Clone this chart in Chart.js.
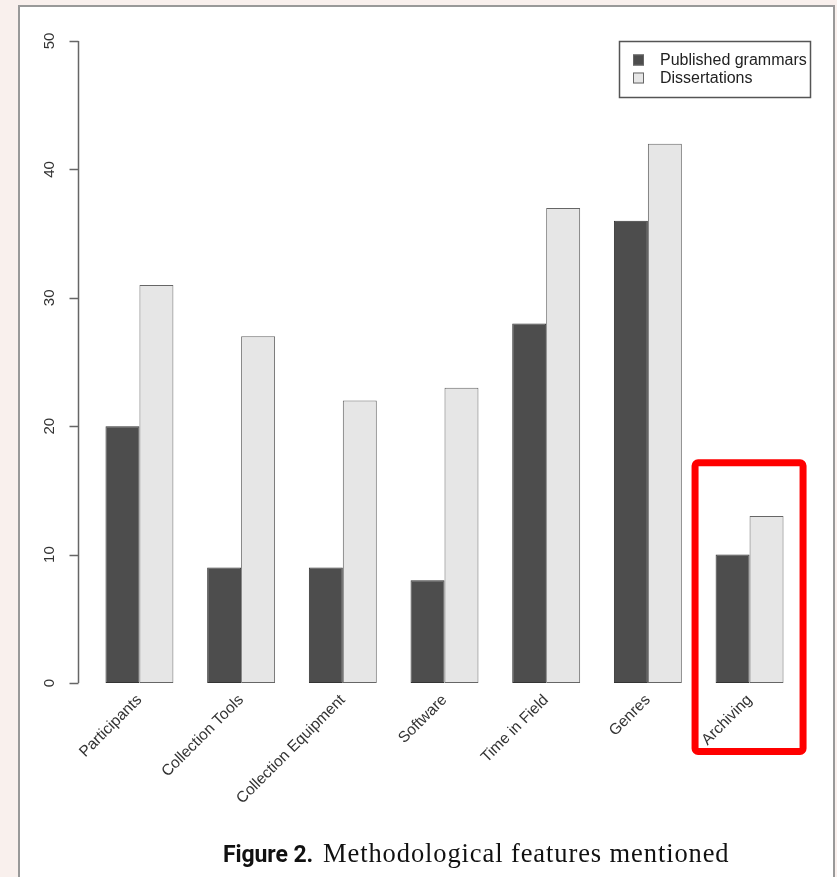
<!DOCTYPE html>
<html>
<head>
<meta charset="utf-8">
<script src="https://cdn.jsdelivr.net/npm/chart.js@4/dist/chart.umd.min.js"></script>
<style>
  html, body { margin: 0; padding: 0; background: #f9f0ed; }
  body { width: 837px; height: 877px; position: relative; overflow: hidden; }
  #panel { position: absolute; left: 18px; top: 5px; width: 813px; height: 900px; background: #fff; border: 2px solid #999; }
  #chart { position: absolute; left: 0; top: 0; }
  #caption { position: absolute; left: 223px; top: 840px; line-height: 26px; white-space: nowrap; color: #111; }
  #caption b { font-family: Roboto, "Liberation Sans", sans-serif; font-weight: 700; font-size: 23px; letter-spacing: -0.1px; }
  #caption span { font-family: "Liberation Serif", serif; font-size: 26.5px; letter-spacing: 0.9px; margin-left: 10px; }
</style>
</head>
<body>
<div id="panel"></div>
<canvas id="chart" width="837" height="877"></canvas>
<div id="caption"><b>Figure 2.</b><span>Methodological features mentioned</span></div>
<script>
// --- Data ---
const categories = ["Participants", "Collection Tools", "Collection Equipment", "Software", "Time in Field", "Genres", "Archiving"];
const publishedGrammars = [20, 9, 9, 8, 28, 36, 10];
const dissertations = [31, 27, 22, 23, 37, 42, 13];
const yTicks = [0, 10, 20, 30, 40, 50];
const seriesNames = ["Published grammars", "Dissertations"];
const highlightIndex = 6; // Archiving gets the red box

const canvas = document.getElementById("chart");

// R-style y axis, drawn a bit left of the plot area
const rAxis = {
  id: "rAxis",
  afterDraw(chart) {
    const ctx = chart.ctx;
    const y = chart.scales.y;
    const x0 = 78.5;
    ctx.save();
    ctx.strokeStyle = "#666";
    ctx.lineWidth = 1.5;
    ctx.beginPath();
    ctx.moveTo(x0, y.getPixelForValue(yTicks[0]));
    ctx.lineTo(x0, y.getPixelForValue(yTicks[yTicks.length - 1]));
    yTicks.forEach(t => {
      const py = Math.round(y.getPixelForValue(t)) + 0.5;
      ctx.moveTo(x0, py);
      ctx.lineTo(x0 - 9, py);
    });
    ctx.stroke();
    ctx.fillStyle = "#333";
    ctx.font = "15px 'Liberation Sans', Arial, sans-serif";
    ctx.textAlign = "center";
    ctx.textBaseline = "middle";
    yTicks.forEach(t => {
      ctx.save();
      ctx.translate(50, y.getPixelForValue(t));
      ctx.rotate(-Math.PI / 2);
      ctx.fillText(String(t), 0, 0);
      ctx.restore();
    });
    ctx.restore();
  }
};

// boxed legend, top right
const boxLegend = {
  id: "boxLegend",
  afterDraw(chart) {
    const ctx = chart.ctx;
    ctx.save();
    ctx.strokeStyle = "#555";
    ctx.lineWidth = 1.5;
    ctx.strokeRect(619.5, 41.5, 191, 56);
    ctx.font = "16px 'Liberation Sans', Arial, sans-serif";
    ctx.textBaseline = "middle";
    chart.data.datasets.forEach((ds, i) => {
      const cy = 60 + i * 18;
      ctx.fillStyle = ds.backgroundColor;
      ctx.fillRect(633, cy - 5.5, 11, 11);
      ctx.lineWidth = 1;
      ctx.strokeStyle = "#666";
      ctx.strokeRect(633.5, cy - 5, 10, 10);
      ctx.fillStyle = "#222";
      ctx.fillText(ds.label, 660, cy + 1);
    });
    ctx.restore();
  }
};

// red highlight box round one category
const highlight = {
  id: "highlight",
  afterDraw(chart) {
    const ctx = chart.ctx;
    const xs = chart.scales.x, ys = chart.scales.y;
    const cx = xs.getPixelForValue(highlightIndex);
    const top = ys.getPixelForValue(17.15);
    const bottom = ys.bottom + 68.5;
    ctx.save();
    ctx.strokeStyle = "#ff0000";
    ctx.lineWidth = 7;
    ctx.beginPath();
    ctx.roundRect(cx - 54.5, top, 108, bottom - top, 3);
    ctx.stroke();
    ctx.restore();
  }
};

const config = {
  type: "bar",
  data: {
    labels: categories,
    datasets: [
      { label: seriesNames[0], data: publishedGrammars, backgroundColor: "#4d4d4d", borderColor: "#333", borderWidth: 1, borderSkipped: false },
      { label: seriesNames[1], data: dissertations, backgroundColor: "#e6e6e6", borderColor: "#666", borderWidth: 1, borderSkipped: false }
    ]
  },
  options: {
    responsive: false,
    animation: false,
    events: [],
    layout: { padding: { left: 88.6, right: 36.6, top: 41, bottom: 0 } },
    datasets: { bar: { barPercentage: 1, categoryPercentage: 0.668 } },
    plugins: { legend: { display: false }, tooltip: { enabled: false } },
    scales: {
      y: { display: false, min: 0, max: 50 },
      x: {
        grid: { display: false, drawTicks: false },
        border: { display: false },
        ticks: {
          minRotation: 45, maxRotation: 45, padding: 8,
          color: "#333",
          font: { family: "'Liberation Sans', Arial, sans-serif", size: 15.5 }
        },
        afterFit: s => { s.height = 194; }
      }
    }
  },
  plugins: [rAxis, boxLegend, highlight]
};

const currentChart = new Chart(canvas, config);
</script>
</body>
</html>
